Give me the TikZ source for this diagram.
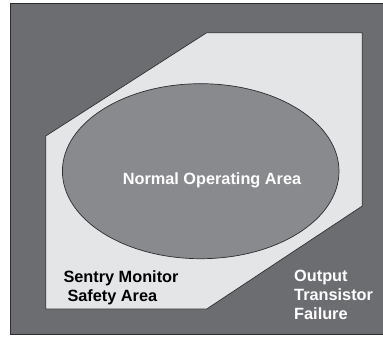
\documentclass[tikz,border=0pt]{standalone}
\usepackage{fontspec}
\setmainfont{Liberation Sans}
\usepackage{tikz}
\usetikzlibrary{positioning}
\definecolor{cDark}{RGB}{108,109,113}
\definecolor{cLight}{RGB}{228,229,231}
\definecolor{cMid}{RGB}{137,138,142}
\definecolor{cEdge}{RGB}{45,45,48}
\tikzset{
	region/.style ={draw=cEdge, line width=0.7pt, line join=miter},
	lbl/.style    ={font=\bfseries\fontsize{16.3}{19}\selectfont, align=left, inner sep=0pt},
}

\begin{document}
\begin{tikzpicture}[x=1pt, y=-1pt]
	\useasboundingbox (0,0) rectangle (383,338);
	% outer failure area
	\fill[white] (0,0) rectangle (383,338);
	\filldraw[region, fill=cDark] (10,3.5) rectangle (390,334.5);
	% sentry monitor safety area
	\filldraw[region, fill=cLight] (45.7,136) -- (206.7,32.7) -- (362.3,32.7) -- (362.3,206) -- (206.7,309) -- (45.7,309) -- cycle;
	% normal operating area
	\filldraw[region, fill=cMid] (200.7,171.2) ellipse [x radius=138.3, y radius=87.5];
	\node[lbl, white, anchor=base] (noa) at (212,184.3) {Normal Operating Area};
	\node[lbl, black, anchor=north west] (sma) at (63.3,270) {Sentry Monitor\\\hspace*{4pt}Safety Area};
	\node[lbl, white, anchor=north west] (otf) at (294,269.5) {Output\\Transistor\\Failure};
\end{tikzpicture}
\end{document}
